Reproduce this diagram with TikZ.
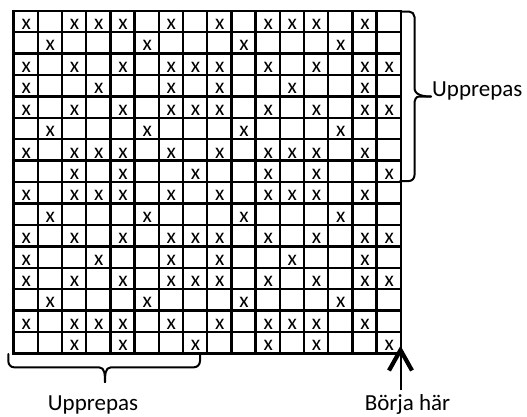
\documentclass[tikz,border=0pt]{standalone}
\usepackage{fontspec}
\setmainfont{Carlito}
\begin{document}
\begin{tikzpicture}[x=1pt,y=-1pt,
  gridline/.style={line width=2.4pt,line cap=rect},
  mark x/.style={anchor=base,inner sep=0pt,font=\fontsize{21.5}{21.5}\selectfont},
  label txt/.style={anchor=base,inner sep=0pt,font=\fontsize{23}{23}\selectfont},
  bracestroke/.style={line width=2pt,line join=round,line cap=round}]
\useasboundingbox (0,0) rectangle (527,416);
\def\gx{13.5}\def\gy{10.7}\def\cw{24.2}\def\ch{21.42}
% grid
\foreach \i in {0,...,16}{
  \draw[gridline] ({\gx+\i*\cw},\gy) -- ({\gx+\i*\cw},{\gy+16*\ch});
  \draw[gridline] (\gx,{\gy+\i*\ch}) -- ({\gx+16*\cw},{\gy+\i*\ch});
}
% marks: pattern rows (8 columns), repeated twice each way
\foreach \r/\cols in {1/{1,3,4,5,7},2/{2,6},3/{1,3,5,7,8},4/{1,4,7},5/{1,3,5,7,8},6/{2,6},7/{1,3,4,5,7},8/{3,5,8}}{
  \foreach \rr in {0,8}{
    \foreach \c in \cols{
      \foreach \cc in {0,8}{
        \pgfmathtruncatemacro\row{\r+\rr}
        \pgfmathtruncatemacro\col{\c+\cc}
        \node[mark x] (m-\row-\col) at ({\gx+(\col-0.5)*\cw+0.6},{\gy+\row*\ch-2.6}) {x};
      }
    }
  }
}
% right brace
\coordinate (rbtip) at (431,96.5);
\draw[bracestroke] (400,11.5) -- (409,11.5) to[out=0,in=90] (414.5,17) -- (414.5,88)
   to[out=-90,in=180] (rbtip);
\draw[bracestroke] (rbtip) -- (419,96.5) to[out=180,in=90] (414.5,104) -- (414.5,175)
   to[out=-90,in=0] (409,181) -- (400,181);
\node[label txt,anchor=base west] (rlab) at (432,96.5) {Upprepas};
% bottom brace
\coordinate (bbtip) at (105,382);
\draw[bracestroke] (8.3,354) -- (8.3,361) to[out=-90,in=180] (14,367.3) -- (99,367.3)
   to[out=0,in=90] (bbtip);
\draw[bracestroke] (bbtip) to[out=90,in=180] (111,367.3) -- (194,367.3)
   to[out=0,in=-90] (200,361) -- (200,355);
\node[label txt] (blab) at (93,410) {Upprepas};
% start arrow
\node[label txt] (start) at (407.5,410) {Börja här};
\coordinate (corner) at (400.5,353.5);
\coordinate (tail) at (400.5,390);
\draw[line width=2pt] (tail) -- ([yshift=4pt]corner);
\draw[line width=4.2pt,line join=miter,miter limit=10] (389,370.5) -- ([yshift=3.5pt]corner) -- (412,370.5);
\end{tikzpicture}
\end{document}
